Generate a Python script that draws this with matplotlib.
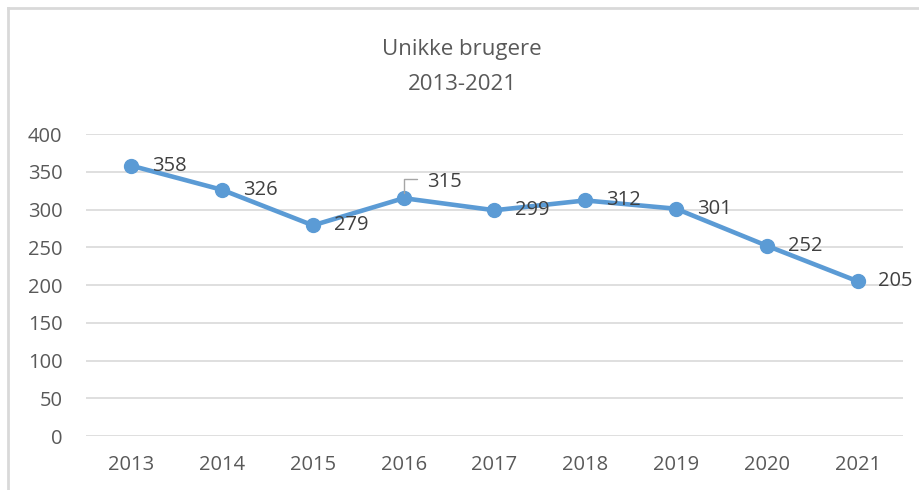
import matplotlib
matplotlib.use("Agg")
import matplotlib.pyplot as plt
from matplotlib.lines import Line2D

years = ["2013", "2014", "2015", "2016", "2017", "2018", "2019", "2020", "2021"]
users = [358, 326, 279, 315, 299, 312, 301, 252, 205]
yticks = [0, 50, 100, 150, 200, 250, 300, 350, 400]
title = "Unikke brugere\n2013-2021"

plt.rcParams['font.family'] = ['Open Sans', 'DejaVu Sans']
TXT = '#595959'
LBL = '#404040'
GRID = '#D9D9D9'
BLUE = '#5B9BD5'

fig = plt.figure(figsize=(9.2, 4.9), dpi=100)
ax = fig.add_axes([86/920, 1-436/490, (903-86)/920, (436-134)/490])

x = list(range(len(years)))
ax.plot(x, users, color=BLUE, lw=3.3, marker='o', ms=10, solid_joinstyle='round', zorder=3)

ax.set_xlim(-0.5, len(years)-0.5)
ax.set_ylim(0, 400)
ax.set_yticks(yticks)
ax.set_xticks(x)
ax.set_xticklabels(years)
ax.grid(axis='y', color=GRID, lw=1.2)
ax.set_axisbelow(True)
for s in ax.spines.values():
    s.set_visible(False)
ax.tick_params(axis='both', length=0, labelsize=14.5, colors=TXT)
ax.tick_params(axis='y', pad=17)
ax.tick_params(axis='x', pad=14)

for i, v in enumerate(users):
    if years[i] == "2016":
        ax.annotate('', xy=(i, v), xytext=(13*0.72, 19*0.72), textcoords='offset points',
                    arrowprops=dict(arrowstyle='-', color='#A6A6A6', lw=1,
                                    connectionstyle='angle,angleA=0,angleB=90,rad=0',
                                    shrinkA=0, shrinkB=4))
        ax.annotate(str(v), xy=(i, v), xytext=(23*0.72, 16*0.72), textcoords='offset points',
                    ha='left', va='center', fontsize=14.5, color=LBL)
    else:
        ax.annotate(str(v), xy=(i, v), xytext=(15, 0), textcoords='offset points',
                    ha='left', va='center', fontsize=14.5, color=LBL)

fig.text(462/920, 1-67/490, title, ha='center', va='center', fontsize=16,
         color=TXT, linespacing=1.85)

# chart border (top and left visible)
fig.add_artist(Line2D([8/920, 8/920], [0, 1-8/490], color=GRID, lw=2, transform=fig.transFigure))
fig.add_artist(Line2D([8/920, 1], [1-8/490, 1-8/490], color=GRID, lw=2, transform=fig.transFigure))

fig.savefig("out.png", dpi=100, facecolor='white')
